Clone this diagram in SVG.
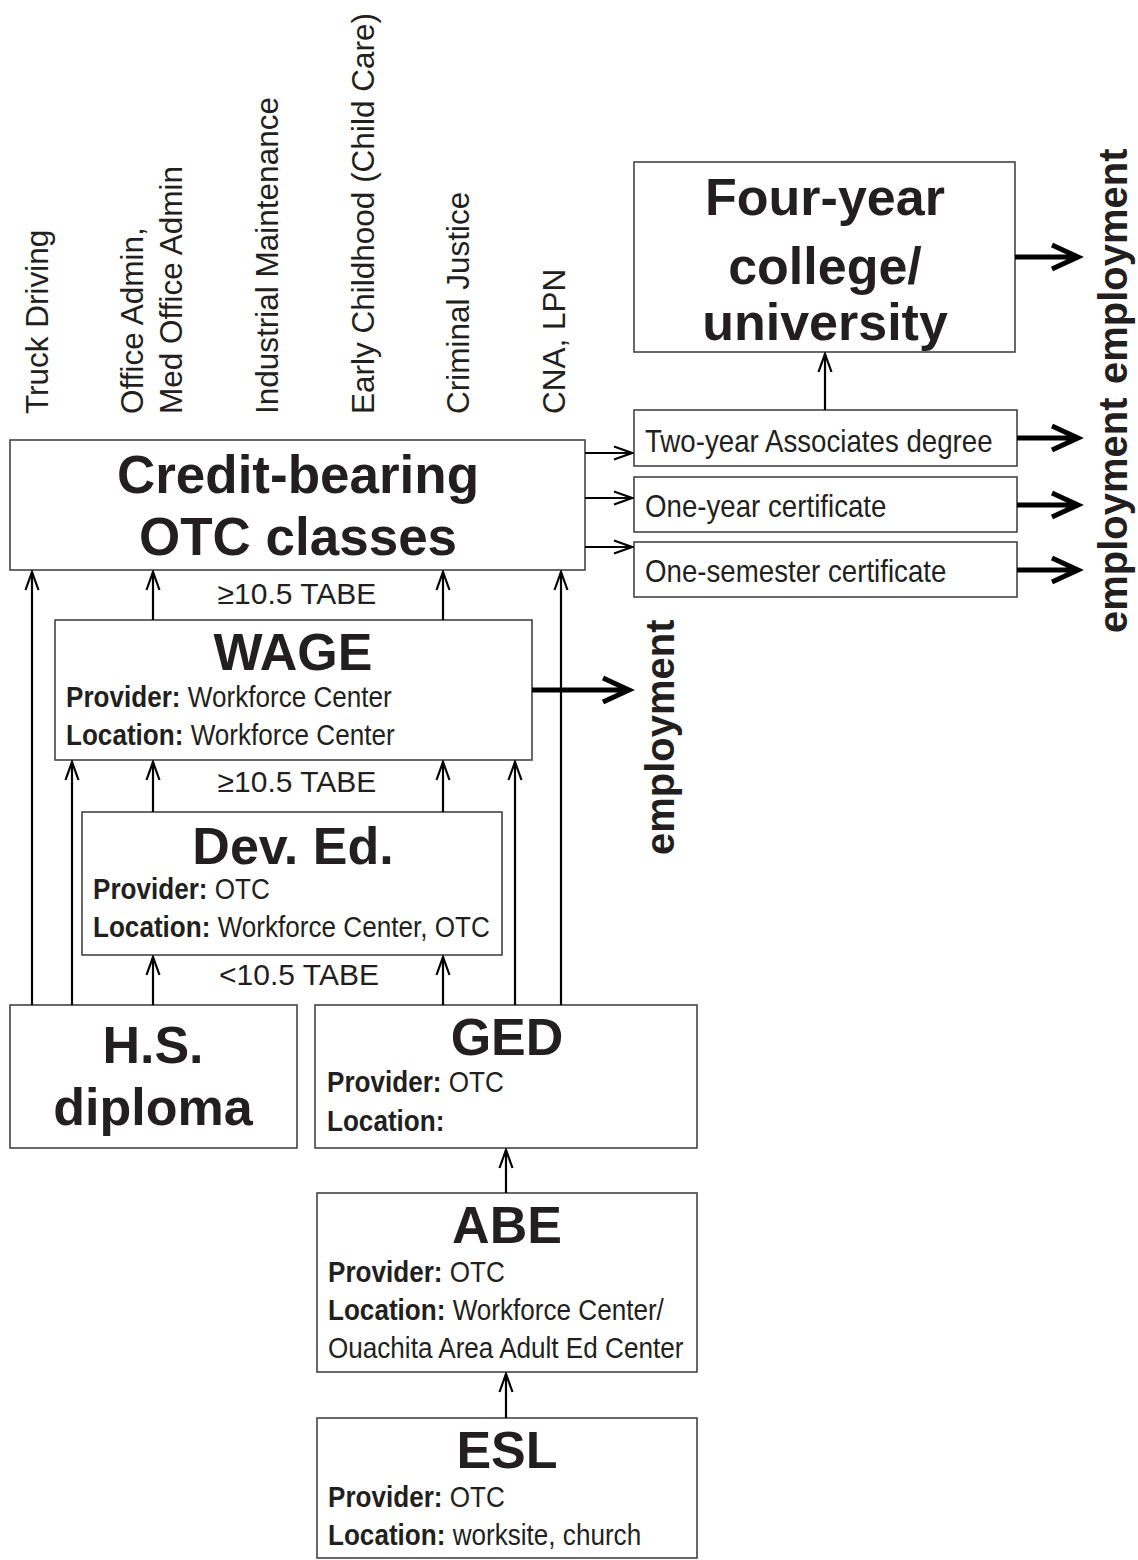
<svg xmlns="http://www.w3.org/2000/svg" width="1138" height="1560" viewBox="0 0 1138 1560">
<defs>
<style>
.box{fill:#fff;stroke:#444;stroke-width:1.6}
.title{font-family:"Liberation Sans",Arial,sans-serif;font-weight:bold;font-size:52px;fill:#231f20;text-anchor:middle}
.body{font-family:"Liberation Sans",Arial,sans-serif;font-size:29px;fill:#231f20}
.rbody{font-family:"Liberation Sans",Arial,sans-serif;font-size:32px;fill:#231f20}
.lbl{font-family:"Liberation Sans",Arial,sans-serif;font-size:30px;fill:#231f20}
.vlbl{font-family:"Liberation Sans",Arial,sans-serif;font-size:31.5px;fill:#231f20}
.emp{font-family:"Liberation Sans",Arial,sans-serif;font-weight:bold;font-size:40px;fill:#231f20}
.b{font-weight:bold}
.thin{stroke:#000;stroke-width:2.2;fill:none;marker-end:url(#open)}
.thick{stroke:#000;stroke-width:5;fill:none}
</style>
<marker id="open" markerUnits="userSpaceOnUse" viewBox="-20 -8 22 16" refX="0" refY="0" markerWidth="22" markerHeight="16" orient="auto">
<path d="M-18,-6.5 L0,0 L-18,6.5" fill="none" stroke="#000" stroke-width="2.2"/>
</marker>
</defs>

<g id="program-labels">
<text class="vlbl" transform="translate(48,414) rotate(-90)">Truck Driving</text>
<text class="vlbl" transform="translate(143,414) rotate(-90)">Office Admin,</text>
<text class="vlbl" transform="translate(182,414) rotate(-90)">Med Office Admin</text>
<text class="vlbl" transform="translate(278,414) rotate(-90)">Industrial Maintenance</text>
<text class="vlbl" transform="translate(374,414) rotate(-90)">Early Childhood (Child Care)</text>
<text class="vlbl" transform="translate(469,414) rotate(-90)">Criminal Justice</text>
<text class="vlbl" transform="translate(565,414) rotate(-90)">CNA, LPN</text>
</g>

<g id="credit">
<rect class="box" x="10" y="440" width="575" height="130"/>
<text class="title" style="font-size:53px" x="298" y="493">Credit-bearing</text>
<text class="title" style="font-size:53px" x="298" y="555">OTC classes</text>
</g>

<g id="four-year">
<rect class="box" x="634" y="162" width="381" height="190"/>
<text class="title" x="825" y="215">Four-year</text>
<text class="title" x="825" y="284">college/</text>
<text class="title" x="825" y="340">university</text>
</g>

<g id="two-year">
<rect class="box" x="634" y="410" width="383" height="56"/>
<text class="rbody" transform="translate(645,452) scale(0.865,1)">Two-year Associates degree</text>
</g>
<g id="one-year">
<rect class="box" x="634" y="477" width="383" height="55"/>
<text class="rbody" transform="translate(645,517) scale(0.865,1)">One-year certificate</text>
</g>
<g id="one-semester">
<rect class="box" x="634" y="542" width="383" height="55"/>
<text class="rbody" transform="translate(645,582) scale(0.865,1)">One-semester certificate</text>
</g>

<g id="employment-labels">
<text class="emp" transform="translate(1127,384) rotate(-90)">employment</text>
<text class="emp" transform="translate(1127,633) rotate(-90)">employment</text>
<text class="emp" transform="translate(674,855) rotate(-90)">employment</text>
</g>

<g id="tabe-labels">
<text class="lbl" x="297" y="604" text-anchor="middle">≥10.5 TABE</text>
<text class="lbl" x="297" y="792" text-anchor="middle">≥10.5 TABE</text>
<text class="lbl" x="299" y="985" text-anchor="middle">&lt;10.5 TABE</text>
</g>

<g id="wage">
<rect class="box" x="55" y="620" width="477" height="140"/>
<text class="title" x="293" y="670">WAGE</text>
<text class="body" transform="translate(66,707) scale(0.9,1)"><tspan class="b">Provider:</tspan> Workforce Center</text>
<text class="body" transform="translate(66,745) scale(0.9,1)"><tspan class="b">Location:</tspan> Workforce Center</text>
</g>

<g id="dev-ed">
<rect class="box" x="82" y="812" width="420" height="143"/>
<text class="title" x="293" y="864">Dev. Ed.</text>
<text class="body" transform="translate(93,899) scale(0.9,1)"><tspan class="b">Provider:</tspan> OTC</text>
<text class="body" transform="translate(93,937) scale(0.9,1)"><tspan class="b">Location:</tspan> Workforce Center, OTC</text>
</g>

<g id="hs-diploma">
<rect class="box" x="10" y="1005" width="287" height="143"/>
<text class="title" x="153" y="1063">H.S.</text>
<text class="title" x="153" y="1125">diploma</text>
</g>

<g id="ged">
<rect class="box" x="315" y="1005" width="382" height="143"/>
<text class="title" x="507" y="1055">GED</text>
<text class="body" transform="translate(327,1092) scale(0.9,1)"><tspan class="b">Provider:</tspan> OTC</text>
<text class="body" transform="translate(327,1131) scale(0.9,1)"><tspan class="b">Location:</tspan></text>
</g>

<g id="abe">
<rect class="box" x="317" y="1193" width="380" height="179"/>
<text class="title" x="507" y="1243">ABE</text>
<text class="body" transform="translate(328,1282) scale(0.9,1)"><tspan class="b">Provider:</tspan> OTC</text>
<text class="body" transform="translate(328,1320) scale(0.9,1)"><tspan class="b">Location:</tspan> Workforce Center/</text>
<text class="body" transform="translate(328,1358) scale(0.9,1)">Ouachita Area Adult Ed Center</text>
</g>

<g id="esl">
<rect class="box" x="317" y="1418" width="380" height="140"/>
<text class="title" x="507" y="1468">ESL</text>
<text class="body" transform="translate(328,1507) scale(0.9,1)"><tspan class="b">Provider:</tspan> OTC</text>
<text class="body" transform="translate(328,1545) scale(0.9,1)"><tspan class="b">Location:</tspan> worksite, church</text>
</g>

<g id="connectors">
<path class="thin" d="M32,1005 V572"/>
<path class="thin" d="M72,1005 V762"/>
<path class="thin" d="M153,1005 V957"/>
<path class="thin" d="M153,812 V762"/>
<path class="thin" d="M153,620 V572"/>
<path class="thin" d="M443,1005 V957"/>
<path class="thin" d="M443,812 V762"/>
<path class="thin" d="M443,620 V572"/>
<path class="thin" d="M515,1005 V762"/>
<path class="thin" d="M561,1005 V572"/>
<path class="thin" d="M825,410 V354"/>
<path class="thin" d="M506,1193 V1150"/>
<path class="thin" d="M506,1418 V1374"/>
<path class="thin" d="M585,453 H632"/>
<path class="thin" d="M585,498 H632"/>
<path class="thin" d="M585,547 H632"/>
<path class="thick" d="M1015,257 H1076 M1052,245 L1078,257 L1052,269"/>
<path class="thick" d="M1017,438 H1076 M1052,426 L1078,438 L1052,450"/>
<path class="thick" d="M1017,505 H1076 M1052,493 L1078,505 L1052,517"/>
<path class="thick" d="M1017,570 H1076 M1052,558 L1078,570 L1052,582"/>
<path class="thick" d="M532,690 H627 M603,678 L629,690 L603,702"/>
</g>
</svg>
